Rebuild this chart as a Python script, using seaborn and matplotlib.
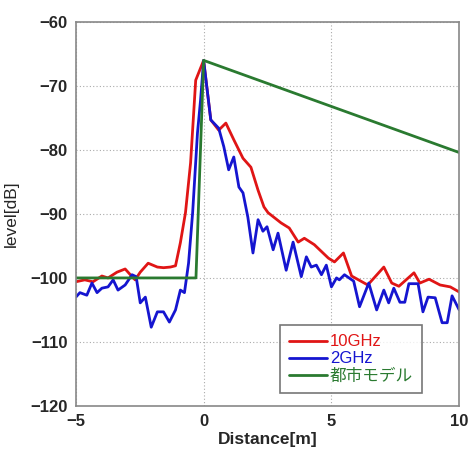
import pandas as pd
import seaborn as sns
import matplotlib.pyplot as plt

# --- data ---
x_10g = [-5.0, -4.65, -4.33, -3.98, -3.74, -3.39, -3.07, -2.80, -2.68, -2.48,
         -2.17, -1.81, -1.57, -1.30, -1.10, -0.91, -0.71, -0.51, -0.31, 0.0,
         0.28, 0.59, 0.87, 1.18, 1.54, 1.85, 2.13, 2.36, 2.52, 3.03,
         3.35, 3.70, 3.94, 4.33, 4.88, 5.12, 5.47, 5.79, 6.42, 7.05,
         7.36, 7.64, 8.23, 8.46, 8.82, 9.25, 9.65, 10.0]
y_10g = [-100.6, -100.3, -100.6, -99.7, -100.0, -99.1, -98.6, -99.8, -100.3, -99.1,
         -97.7, -98.3, -98.4, -98.3, -98.1, -94.5, -89.8, -82.0, -69.1, -66.0,
         -75.3, -76.9, -75.8, -78.4, -81.3, -82.7, -86.3, -88.9, -89.8, -91.4,
         -92.2, -94.4, -93.8, -94.8, -96.9, -97.5, -96.1, -99.7, -101.1, -98.3,
         -100.8, -101.3, -99.2, -100.8, -100.2, -101.1, -101.4, -102.2]

x_2g = [-5.0, -4.84, -4.57, -4.37, -4.17, -3.98, -3.74, -3.54, -3.35, -3.07,
        -2.80, -2.64, -2.48, -2.28, -2.05, -1.81, -1.57, -1.34, -1.10, -0.91,
        -0.75, -0.59, -0.43, -0.24, -0.12, 0.0, 0.28, 0.59, 0.79, 0.98,
        1.18, 1.38, 1.54, 1.73, 1.93, 2.13, 2.32, 2.48, 2.72, 2.91,
        3.23, 3.50, 3.82, 4.02, 4.21, 4.41, 4.61, 4.80, 5.00, 5.20,
        5.31, 5.51, 5.87, 6.10, 6.46, 6.77, 7.05, 7.24, 7.44, 7.68,
        7.87, 8.03, 8.39, 8.58, 8.78, 9.06, 9.33, 9.53, 9.72, 10.0]
y_2g = [-103.0, -102.3, -102.7, -100.8, -102.3, -101.6, -101.4, -100.3, -101.9, -101.1,
        -99.5, -99.8, -103.9, -103.0, -107.7, -105.3, -105.3, -106.9, -105.0, -101.9,
        -102.3, -97.7, -89.8, -77.3, -72.2, -66.0, -75.3, -76.6, -79.5, -83.1,
        -81.1, -85.8, -86.7, -90.5, -96.1, -90.9, -92.7, -92.0, -95.6, -93.0,
        -98.8, -94.4, -99.8, -96.7, -98.3, -98.0, -99.5, -98.0, -101.4, -100.0,
        -100.3, -99.5, -100.5, -104.5, -100.8, -105.0, -101.9, -103.9, -101.6, -103.8,
        -103.8, -100.9, -100.9, -105.3, -103.0, -103.1, -107.0, -107.0, -102.8, -105.0]

x_model = [-5.0, -0.3, 0.0, 10.0]
y_model = [-100.0, -100.0, -66.0, -80.4]

labels = ["10GHz", "2GHz", "都市モデル"]
colors = ["#e01515", "#1515d0", "#2a7a30"]

df = pd.concat([
    pd.DataFrame({"Distance": x_10g, "level": y_10g, "series": labels[0]}),
    pd.DataFrame({"Distance": x_2g, "level": y_2g, "series": labels[1]}),
    pd.DataFrame({"Distance": x_model, "level": y_model, "series": labels[2]}),
], ignore_index=True)

sns.set_style("white")
plt.rcParams['font.family'] = ['Liberation Sans', 'Noto Sans CJK JP', 'DejaVu Sans']

fig = plt.figure(figsize=(4.71, 4.49), dpi=100)
ax = fig.add_axes([0.161, 0.096, 0.814, 0.855])

sns.lineplot(data=df, x="Distance", y="level", hue="series", hue_order=labels,
             palette=colors, estimator=None, sort=False, linewidth=2.0, ax=ax)

ax.set_xlim(-5, 10)
ax.set_ylim(-120, -60)
ax.set_xticks([-5, 0, 5, 10])
ax.set_yticks(range(-120, -59, 10))
ax.grid(True, linestyle=(0, (1, 2)), color="#aaaaaa", linewidth=0.8)
for s in ax.spines.values():
    s.set_color("#888888")
    s.set_linewidth(1.2)
ax.tick_params(length=0, pad=6, labelsize=12)
for t in ax.get_xticklabels() + ax.get_yticklabels():
    t.set_fontweight("bold")

ax.set_xlabel("Distance[m]", fontsize=12.5, fontweight="bold", labelpad=2)
ax.set_ylabel("level[dB]", fontsize=12.5, labelpad=8)

leg = ax.legend(loc="lower right", bbox_to_anchor=(0.903, 0.034), fontsize=12,
                frameon=True, fancybox=False, edgecolor="#555555",
                handlelength=2.3, handletextpad=0.15, borderpad=0.55, labelspacing=0.12,
                borderaxespad=0)
leg.get_frame().set_linewidth(1.2)
for txt, c in zip(leg.get_texts(), colors):
    txt.set_color(c)

fig.savefig("out.png", dpi=100)
plt.close(fig)
